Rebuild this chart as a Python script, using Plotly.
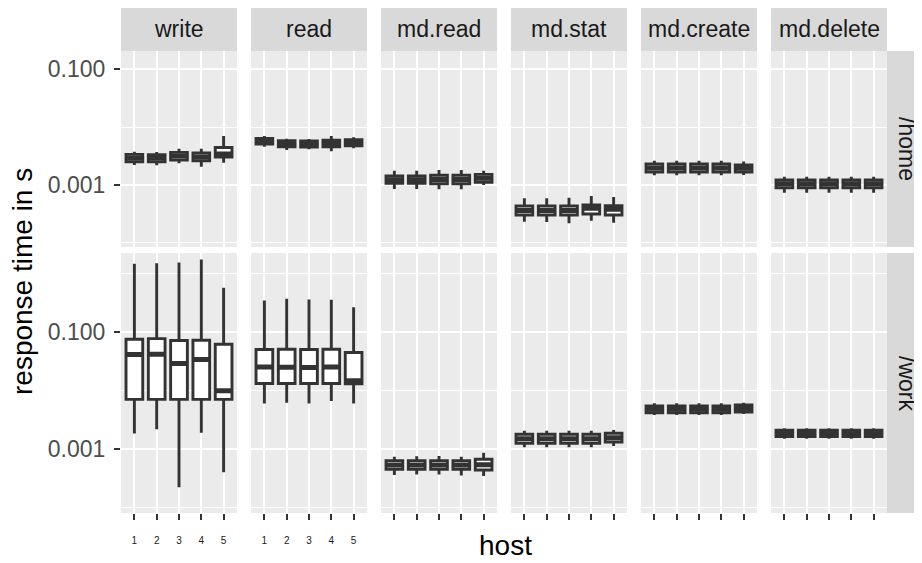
import plotly.graph_objects as go

# ---------------- data ----------------
hosts = ["1", "2", "3", "4", "5"]
ops = ["write", "read", "md.read", "md.stat", "md.create", "md.delete"]
filesystems = ["/home", "/work"]

# /home  (one list of 5 hosts per operation, in the order of `ops`)
home_lower = [
    [0.00221, 0.00220, 0.00237, 0.00207, 0.00242],
    [0.00458, 0.00402, 0.00413, 0.00381, 0.00430],
    [0.000849, 0.000849, 0.000840, 0.000840, 0.000996],
    [0.000231, 0.000228, 0.000217, 0.000240, 0.000222],
    [0.001466, 0.001466, 0.001466, 0.001466, 0.001480],
    [0.000733, 0.000733, 0.000733, 0.000733, 0.000733],
]
home_q1 = [
    [0.00252, 0.00250, 0.00270, 0.00262, 0.00304],
    [0.00510, 0.00458, 0.00453, 0.00458, 0.00476],
    [0.001066, 0.001066, 0.001050, 0.001050, 0.001110],
    [0.000301, 0.000301, 0.000301, 0.000314, 0.000301],
    [0.00167, 0.00167, 0.00167, 0.00167, 0.00167],
    [0.000896, 0.000896, 0.000896, 0.000896, 0.000896],
]
home_median = [
    [0.00292, 0.00290, 0.00316, 0.00304, 0.00343],
    [0.00570, 0.00516, 0.00510, 0.00520, 0.00540],
    [0.00123, 0.00123, 0.00124, 0.00124, 0.00130],
    [0.000360, 0.000360, 0.000360, 0.000394, 0.000379],
    [0.00196, 0.00196, 0.00196, 0.00196, 0.00194],
    [0.001045, 0.001045, 0.001045, 0.001045, 0.001045],
]
home_q3 = [
    [0.00338, 0.00335, 0.00366, 0.00357, 0.00444],
    [0.00640, 0.00582, 0.00575, 0.00592, 0.00605],
    [0.001426, 0.001426, 0.001466, 0.001466, 0.001525],
    [0.000431, 0.000431, 0.000431, 0.000449, 0.000437],
    [0.00230, 0.00230, 0.00230, 0.00230, 0.00222],
    [0.001216, 0.001216, 0.001216, 0.001216, 0.001216],
]
home_upper = [
    [0.00375, 0.00370, 0.00423, 0.00423, 0.00702],
    [0.00702, 0.00630, 0.00622, 0.00702, 0.00667],
    [0.00176, 0.00176, 0.00181, 0.00181, 0.00176],
    [0.000586, 0.000586, 0.000601, 0.000643, 0.000618],
    [0.00262, 0.00262, 0.00262, 0.00262, 0.00255],
    [0.001387, 0.001387, 0.001387, 0.001387, 0.001387],
]

# /work
work_lower = [
    [0.00185, 0.00217, 0.000221, 0.00190, 0.000400],
    [0.00604, 0.00618, 0.00604, 0.00662, 0.00604],
    [0.000358, 0.000365, 0.000365, 0.000350, 0.000344],
    [0.00107, 0.00107, 0.00107, 0.00107, 0.001125],
    [0.00383, 0.00383, 0.00383, 0.00383, 0.00398],
    [0.00150, 0.00150, 0.00150, 0.00150, 0.00150],
]
work_q1 = [
    [0.00708, 0.00708, 0.00708, 0.00708, 0.00708],
    [0.01328, 0.01328, 0.01328, 0.01328, 0.01306],
    [0.000449, 0.000449, 0.000449, 0.000449, 0.000436],
    [0.001253, 0.001253, 0.001253, 0.001253, 0.001318],
    [0.00419, 0.00419, 0.00419, 0.00419, 0.00430],
    [0.001626, 0.001626, 0.001626, 0.001626, 0.001626],
]
work_median = [
    [0.0416, 0.0421, 0.0292, 0.0341, 0.00993],
    [0.0255, 0.0252, 0.0249, 0.0255, 0.01472],
    [0.000532, 0.000532, 0.000532, 0.000532, 0.000537],
    [0.001496, 0.001496, 0.001496, 0.001496, 0.001563],
    [0.00479, 0.00479, 0.00479, 0.00479, 0.00493],
    [0.001845, 0.001845, 0.001845, 0.001845, 0.001845],
]
work_q3 = [
    [0.0759, 0.0780, 0.0722, 0.0730, 0.0624],
    [0.0506, 0.0512, 0.0506, 0.0512, 0.0450],
    [0.000631, 0.000631, 0.000631, 0.000631, 0.000667],
    [0.001786, 0.001786, 0.001786, 0.001786, 0.001858],
    [0.00546, 0.00546, 0.00546, 0.00546, 0.00568],
    [0.00209, 0.00209, 0.00209, 0.00209, 0.00209],
]
work_upper = [
    [1.49, 1.53, 1.57, 1.77, 0.581],
    [0.352, 0.377, 0.366, 0.362, 0.270],
    [0.000738, 0.000750, 0.000760, 0.000738, 0.000865],
    [0.00206, 0.00206, 0.00206, 0.00206, 0.00212],
    [0.00607, 0.00607, 0.00607, 0.00607, 0.00622],
    [0.002265, 0.002265, 0.002265, 0.002265, 0.002265],
]

y_tick_vals = [0.001, 0.1]
y_tick_text = ["0.001", "0.100"]
y_minor_vals = [0.0001, 0.01, 1.0]

# ---------------- layout geometry (page pixels) ----------------
PAGE_OFF = 8            # default body margin of the html page
W, H = 914, 555         # figure size so that it fits the 922x563 window
panel_left = [121, 251, 381, 511, 641, 771]
panel_w = 116
row_top = [51, 253]
row_bot = [247, 513]
strip_top = 5
y_ranges = [[-4.074, -0.683], [-4.097, 0.359]]

def fx(p):
    return (p - PAGE_OFF) / W

def fy(p):
    return 1 - (p - PAGE_OFF) / H

stats = {
    "/home": (home_lower, home_q1, home_median, home_q3, home_upper),
    "/work": (work_lower, work_q1, work_median, work_q3, work_upper),
}

FONT = "Liberation Sans, Arial, sans-serif"
DARK = "#333333"

fig = go.Figure()
layout_axes = {}

for r, fs in enumerate(filesystems):
    lo, q1, med, q3, up = stats[fs]
    for c, op in enumerate(ops):
        k = r * 6 + c + 1
        xname = "x" if k == 1 else f"x{k}"
        yname = "y" if k == 1 else f"y{k}"
        fig.add_trace(go.Box(
            x=hosts, q1=q1[c], median=med[c], q3=q3[c],
            lowerfence=lo[c], upperfence=up[c],
            xaxis=xname, yaxis=yname, width=0.75, whiskerwidth=0,
            fillcolor="white", line=dict(color=DARK, width=2.9),
            boxpoints=False, showlegend=False, hoverinfo="skip",
        ))
        # thicker median line (ggplot style)
        fig.add_trace(go.Box(
            x=hosts, q1=med[c], median=med[c], q3=med[c],
            lowerfence=med[c], upperfence=med[c],
            xaxis=xname, yaxis=yname, width=0.75, whiskerwidth=0,
            fillcolor="rgba(0,0,0,0)", line=dict(color=DARK, width=5),
            boxpoints=False, showlegend=False, hoverinfo="skip",
        ))
        xkey = "xaxis" if k == 1 else f"xaxis{k}"
        ykey = "yaxis" if k == 1 else f"yaxis{k}"
        layout_axes[xkey] = dict(
            domain=[fx(panel_left[c]), fx(panel_left[c] + panel_w)],
            anchor=yname, type="category", categoryorder="array",
            categoryarray=hosts, range=[-0.6, 4.6],
            showgrid=True, gridcolor="white", gridwidth=2.2,
            zeroline=False, showline=False,
            ticks="outside" if r == 1 else "", ticklen=6, tickwidth=2.2,
            tickcolor=DARK,
            showticklabels=(r == 1 and c < 2),
            tickfont=dict(family=FONT, size=10, color="#1a1a1a"),
            ticklabelstandoff=12,
            automargin=False, fixedrange=True,
        )
        layout_axes[ykey] = dict(
            domain=[fy(row_bot[r]), fy(row_top[r])],
            anchor=xname, type="log", range=y_ranges[r],
            tickmode="array", tickvals=y_tick_vals, ticktext=y_tick_text,
            showgrid=True, gridcolor="white", gridwidth=2.2,
            minor=dict(tickmode="array", tickvals=y_minor_vals,
                       showgrid=True, gridcolor="white", gridwidth=1.2,
                       ticks=""),
            zeroline=False, showline=False,
            ticks="outside" if c == 0 else "", ticklen=6, tickwidth=2.2,
            tickcolor=DARK,
            showticklabels=(c == 0),
            tickfont=dict(family=FONT, size=23, color="#4D4D4D"),
            ticklabelstandoff=4,
            automargin=False, fixedrange=True,
        )

shapes = []
annotations = []
for c, op in enumerate(ops):
    shapes.append(dict(type="rect", xref="paper", yref="paper",
                       x0=fx(panel_left[c]), x1=fx(panel_left[c] + panel_w),
                       y0=fy(row_top[0]), y1=fy(strip_top),
                       fillcolor="#D9D9D9", line=dict(width=0), layer="below"))
    annotations.append(dict(text=op, xref="paper", yref="paper",
                            x=fx(panel_left[c] + panel_w / 2),
                            y=fy((strip_top + row_top[0]) / 2 + 1),
                            xanchor="center", yanchor="middle", showarrow=False,
                            font=dict(family=FONT, size=23, color="#1A1A1A")))
for r, fs in enumerate(filesystems):
    shapes.append(dict(type="rect", xref="paper", yref="paper",
                       x0=fx(887), x1=fx(940),
                       y0=fy(row_bot[r]), y1=fy(row_top[r]),
                       fillcolor="#D9D9D9", line=dict(width=0), layer="below"))
    annotations.append(dict(text=fs, xref="paper", yref="paper",
                            x=fx(907), y=fy((row_top[r] + row_bot[r]) / 2),
                            xanchor="center", yanchor="middle", showarrow=False,
                            textangle=90,
                            font=dict(family=FONT, size=23, color="#1A1A1A")))

annotations.append(dict(text="response time in s", xref="paper", yref="paper",
                        x=fx(22), y=fy(282), xanchor="center", yanchor="middle",
                        showarrow=False, textangle=-90,
                        font=dict(family=FONT, size=28, color="black")))
annotations.append(dict(text="host", xref="paper", yref="paper",
                        x=fx(505), y=fy(545), xanchor="center", yanchor="middle",
                        showarrow=False,
                        font=dict(family=FONT, size=28, color="black")))

fig.update_layout(
    template="none",
    width=W, height=H,
    margin=dict(l=0, r=0, t=0, b=0),
    paper_bgcolor="white", plot_bgcolor="#EBEBEB",
    boxmode="overlay", showlegend=False,
    shapes=shapes, annotations=annotations,
    font=dict(family=FONT),
    **layout_axes,
)

fig.write_html("out.html")
